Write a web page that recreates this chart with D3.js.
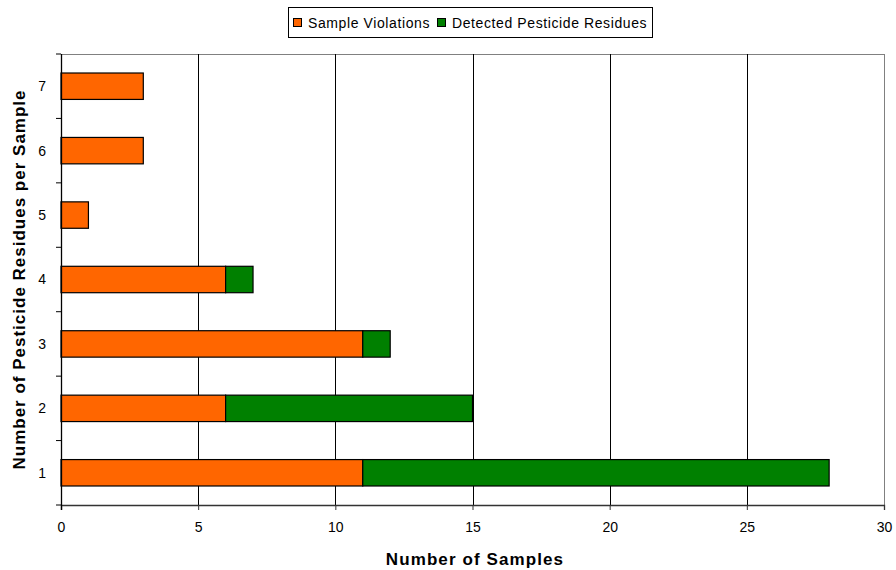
<!DOCTYPE html>
<html><head><meta charset="utf-8">
<script src="https://cdn.jsdelivr.net/npm/d3@7"></script>
<style>body{margin:0;background:#fff;} svg text{font-family:"Liberation Sans",Arial,sans-serif;}</style>
</head><body><svg id="c" width="896" height="570"></svg>
<script>
const categories = ["1","2","3","4","5","6","7"];
const violations = [11, 6, 11, 6, 1, 3, 3];
const detected = [17, 9, 1, 1, 0, 0, 0];
const xTicks = [0, 5, 10, 15, 20, 25, 30];
const seriesNames = ["Sample Violations", "Detected Pesticide Residues"];
const colors = ["#FF6600", "#008000"];

const svg = d3.select("#c");
const m = {l: 61, r: 884, t: 54, b: 505};
const x = d3.scaleLinear().domain([0, 30]).range([m.l, m.r]);
const y = d3.scaleBand().domain(categories.slice().reverse()).range([m.t, m.b]).paddingInner(0.59).paddingOuter(0.295);
const yb = d3.scaleBand().domain(categories.slice().reverse()).range([m.t, m.b]);

// frame top/right
svg.append("line").attr("x1", m.l).attr("x2", m.r).attr("y1", m.t + 0.5).attr("y2", m.t + 0.5).attr("stroke", "#808080");
svg.append("line").attr("x1", m.r + 0.5).attr("x2", m.r + 0.5).attr("y1", m.t).attr("y2", m.b).attr("stroke", "#808080");

// gridlines
svg.append("g").selectAll("line").data(xTicks.filter(d => d > 0 && d < 30)).join("line")
  .attr("x1", d => Math.round(x(d)) + 0.5).attr("x2", d => Math.round(x(d)) + 0.5)
  .attr("y1", m.t).attr("y2", m.b).attr("stroke", "#000").attr("stroke-width", 1);

// stacks
const rows = categories.map((c, i) => ({c, v: [violations[i], detected[i]]}));
rows.forEach(r => {
  let acc = 0;
  r.v.forEach((val, si) => {
    if (val > 0) {
      svg.append("rect")
        .attr("x", x(acc)).attr("width", x(acc + val) - x(acc))
        .attr("y", y(r.c)).attr("height", y.bandwidth())
        .attr("fill", colors[si]).attr("stroke", "#000").attr("stroke-width", 1.2);
    }
    acc += val;
  });
});

// x axis
const xa = svg.append("g").attr("transform", `translate(0,${m.b})`)
  .call(d3.axisBottom(x).tickValues(xTicks).tickSize(5).tickPadding(8));
xa.select(".domain").attr("stroke", "#333").attr("stroke-width", 1.3);
xa.selectAll(".tick line").attr("stroke", "#333");
xa.selectAll("text").attr("font-size", 14).attr("font-family", null).attr("fill", "#000").attr("y", 27).attr("dy", 0);

// y axis
const ya = svg.append("g").attr("transform", `translate(${m.l},0)`);
ya.append("line").attr("x1", 0.5).attr("x2", 0.5).attr("y1", m.t).attr("y2", m.b + 5).attr("stroke", "#000").attr("stroke-width", 1.3);
const bounds = d3.range(categories.length + 1).map(i => m.t + i * yb.step());
ya.selectAll("line.tk").data(bounds).join("line").attr("class", "tk")
  .attr("x1", -5).attr("x2", 0).attr("y1", d => d).attr("y2", d => d).attr("stroke", "#000");
ya.selectAll("text").data(categories).join("text")
  .attr("x", -15).attr("y", d => yb(d) + yb.bandwidth() / 2).attr("dy", "0.35em")
  .attr("text-anchor", "end").attr("font-size", 14).text(d => d);

// axis titles
svg.append("text").attr("x", 475).attr("y", 565).attr("text-anchor", "middle")
  .attr("font-size", 17).attr("font-weight", "bold").attr("letter-spacing", 1.1).text("Number of Samples");
svg.append("text").attr("transform", `translate(25,${(m.t + m.b) / 2}) rotate(-90)`).attr("text-anchor", "middle")
  .attr("font-size", 17).attr("font-weight", "bold").attr("letter-spacing", 1).text("Number of Pesticide Residues per Sample");

// legend
const lg = svg.append("g");
lg.append("rect").attr("x", 288.5).attr("y", 7.5).attr("width", 364).attr("height", 30).attr("fill", "#fff").attr("stroke", "#000");
const lx = [293, 437];
seriesNames.forEach((n, i) => {
  lg.append("rect").attr("x", lx[i] + 0.5).attr("y", 18.5).attr("width", 8).attr("height", 8).attr("fill", colors[i]).attr("stroke", "#000");
  lg.append("text").attr("x", lx[i] + 15).attr("y", 27.5).attr("font-size", 14).attr("letter-spacing", 0.6).text(n);
});
</script></body></html>
